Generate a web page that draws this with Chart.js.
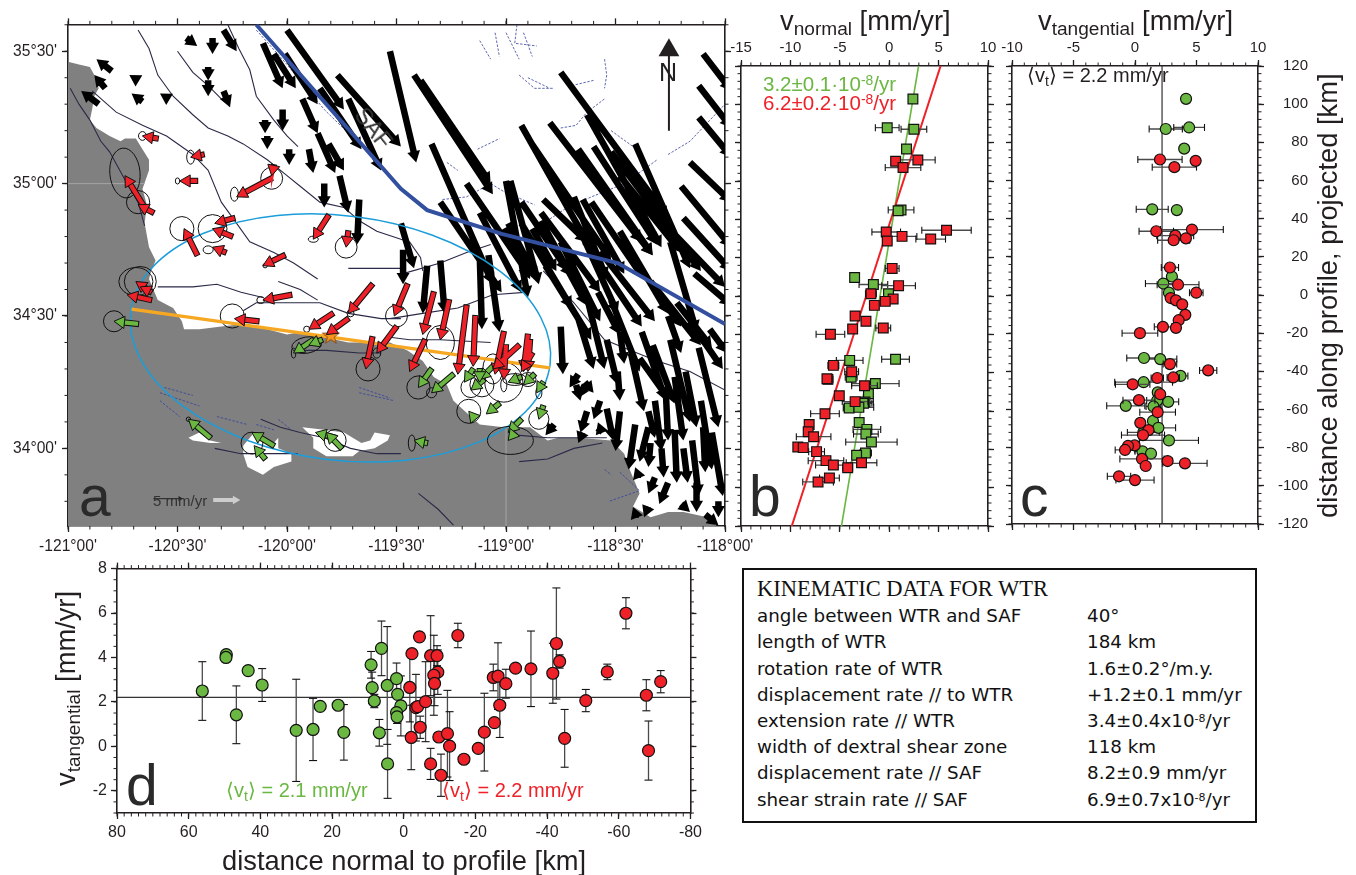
<!DOCTYPE html>
<html><head><meta charset="utf-8">
<script src="https://cdn.jsdelivr.net/npm/chart.js@4"></script>
<style>
html,body{margin:0;padding:0;background:#fff;width:1356px;height:875px;overflow:hidden}
canvas{position:absolute;display:block}
.t{position:absolute;font-family:"Liberation Sans",Arial,sans-serif;color:#231f20;white-space:nowrap;line-height:30px;z-index:5}
.t sub{font-size:.7em;vertical-align:-.25em;line-height:0}
.t sup{font-size:.68em;vertical-align:.42em;line-height:0}
.h{font-size:27.3px}
.big{font-size:57px;line-height:60px;color:#2a2a2a}
.leg{font-size:20.5px}
.avg{font-size:20px}
#box{position:absolute;left:742px;top:568px;width:515px;height:255px;border:2px solid #111;box-sizing:border-box;background:#fff;z-index:6}
.r{position:absolute;font-family:"DejaVu Sans",Verdana,sans-serif;font-size:18.3px;line-height:20px;color:#111;white-space:nowrap}
.r sup{font-size:.6em;vertical-align:.5em;line-height:0}
</style></head><body>
<canvas id="map"></canvas><canvas id="pb"></canvas><canvas id="pc"></canvas><canvas id="pd"></canvas>
<div class="t h" style="left:780px;top:6px">v<sub>normal</sub> [mm/yr]</div>
<div class="t h" style="left:1038px;top:6px">v<sub>tangential</sub> [mm/yr]</div>
<div class="t h" style="left:1313px;top:518px;transform:rotate(-90deg);transform-origin:0 0">distance along profile, projected [km]</div>
<div class="t h" style="left:222px;top:846px">distance normal to profile [km]</div>
<div class="t h" style="left:51px;top:786px;transform:rotate(-90deg);transform-origin:0 0">v<sub>tangential</sub> [mm/yr]</div>
<div class="t leg" style="left:763px;top:69px;color:#6ab741">3.2±0.1·10<sup>-8</sup>/yr</div>
<div class="t leg" style="left:763px;top:88px;color:#ee2128">6.2±0.2·10<sup>-8</sup>/yr</div>
<div class="t avg" style="left:1027px;top:60px">⟨v<sub>t</sub>⟩ = 2.2 mm/yr</div>
<div class="t avg" style="left:226px;top:775px;color:#6ab741">⟨v<sub>t</sub>⟩ = 2.1 mm/yr</div>
<div class="t avg" style="left:442px;top:775px;color:#ee2128">⟨v<sub>t</sub>⟩ = 2.2 mm/yr</div>
<div class="t big" style="left:79px;top:466px">a</div>
<div class="t big" style="left:749px;top:466px">b</div>
<div class="t big" style="left:1020px;top:466px">c</div>
<div class="t big" style="left:126px;top:755px">d</div>
<div class="t" style="left:659px;top:57px;font-size:25px">N</div>
<div class="t" style="left:351px;top:113px;font-size:23px;color:#333;transform:rotate(52deg)">SAF</div>
<div class="t" style="left:153px;top:486px;font-size:15px;color:#333">5 mm/yr</div>
<div id="box"></div>
<script>
// ---------- panels b and c : stations along the profile ----------
const greenAlong=[102.8,87.8,87,76.7,44.9,44.5,9.7,6,1.2,-33,-33.6,-42.4,-45.7,-51,-55.3,-56,-58.4,-58.1,-66,-69.6,-72,-76.2,-81.9,-83.1];
const greenNormal=[2.4,-0.2,2.5,1.75,1.2,0.9,-3.5,-1.6,-0.07,0.64,-4,-3.85,-1.4,-2.1,-2.45,-2.6,-4.05,-3.07,-3.04,-2.26,-2.36,-1.8,-2.4,-3.3];
const greenNormalErr=[0,1.2,1.3,0,1.3,0,0,1.45,0,1.4,1.35,0.6,2.4,0,0.85,0.85,0.6,1.5,0,1.4,1.25,2.6,0.6,0];
const greenTang=[4.15,4.4,2.5,4,1.4,3.4,3,2.3,2.76,0.73,2.05,3.7,0.7,1.85,1.8,2.7,1.5,-0.75,1.46,1.9,0.68,2.76,0.6,1.3];
const greenTangErr=[0,1.25,1.35,0,1.3,0,0,1.45,0,1.4,1.35,0.6,2.35,0,0.85,0.85,0.6,1.55,0,1.4,1.3,2.4,0.6,0];
const redAlong=[71,70.3,67,34.3,33.4,31.1,29.7,28.7,14.4,5.4,1.2,-1.6,-2.8,-4.9,-10.4,-13.2,-16.7,-17.2,-20,-36.2,-39.5,-43.5,-43.2,-46.8,-52,-55.1,-61.4,-67,-70.8,-73.4,-78.8,-79.1,-81.2,-85.9,-88.2,-89.6,-87,-95,-97];
const redNormal=[2.9,0.65,1.4,5.8,-0.3,1.3,4.2,-0.2,0.3,0.95,-1.85,0.4,-0.4,-1.5,-3.45,-2.35,-0.6,-3.7,-5.95,-5.65,-3.8,-6.2,-6.3,-2.5,-5.05,-3.45,-6.5,-8.1,-8.2,-7.65,-9.25,-8.7,-7.35,-6.4,-5.65,-4.2,-2.8,-6.05,-7.2];
const redNormalErr=[1.75,0,1.8,2.5,1.45,1.5,1.5,0,0.7,1.7,0.55,0,0,0,0,0,0.75,0,1.45,0.55,0.7,0.5,0.4,1.3,0,1.3,1.45,0,0,1.75,0,0,0.8,1.8,1.8,0.5,1.55,1,1.55];
const redTang=[2.03,4.93,3.2,4.63,1.73,3.27,4.14,3.14,2.84,3.5,4.98,2.9,3.33,3.84,4.09,3.55,2.27,3.33,0.4,2.84,5.95,1.81,3.11,-0.19,2.05,0.32,1.84,0.43,1.1,0.65,-0.03,-0.57,-0.81,0.57,4.06,0.87,2.65,-1.3,0];
const redTangErr=[1.8,0,1.8,2.55,1.4,1.5,0,1.3,0.7,1.7,0.55,0,0,0,0,0,0.7,0,1.45,0.55,0.7,0.5,0.5,1.4,0,1.3,1.45,0,0,1.75,0,0,0.8,1.8,1.8,0,0.4,0.95,1.55];
const greenFitNormal=[2.97,-4.83], redFitNormal=[5.2,-9.86], fitAlong=[120,-120];
const meanTangential=2.2;
// ---------- panel d ----------
const dGreenDist=[56.2,49.5,49.6,43.4,46.7,39.5,30,25.3,23.3,18.3,16.7,9.1,6.2,8.8,8.2,6.8,4.6,4.5,2,1.7,0.8,2,1.85];
const dGreenV=[2.49,4.13,4,3.41,1.42,2.76,0.72,0.76,1.8,1.85,0.63,3.67,4.41,2.64,2.04,0.61,2.74,-0.79,3.05,2.34,1.82,1.52,1.33];
const dGreenErr=[1.32,0,0,0,1.3,0.74,2.3,1.4,0,0,1.25,0.6,1.23,0.7,0.3,0.6,2.65,1.55,0.7,0,1.35,0,0.3];
const dRedDist=[-1.7,-2.3,-4.4,-3.4,-3.9,-6.1,-4.6,-2.1,-7.5,-9.3,-9.5,-8.4,-8.6,-7.5,-10.4,-9.8,-12.2,-12.8,-15.1,-16.8,-20.8,-22.5,-25.3,-25,-26.3,-26.8,-28.5,-31.2,-35.5,-41.6,-42.6,-43.5,-44.9,-50.8,-56.8,-62,-67.7,-68.3,-71.7];
const dRedV=[2.65,4.17,4.93,1.74,1.79,2.01,0.86,0.4,4.08,4.08,3.34,3.2,2.83,-0.79,-1.3,0.42,0.57,0.01,4.99,-0.58,-0.09,0.64,1.07,3.1,3.16,1.85,2.82,3.52,3.49,3.29,4.63,3.82,0.36,2.06,3.35,5.99,2.3,-0.19,2.91];
const dRedErr=[1.55,0,0,1.5,0,1.8,0.5,1.45,1.8,0.45,1,1.8,1,0.7,0.95,0,1.95,1.55,0.55,0,0,1.75,0,0.6,1.5,1.45,0.65,0,1.7,1.35,2.5,0.3,1.3,0.5,0.35,0.7,0.7,1.33,0.5];
// ---------- axis ticks ----------
const lonTicks=[-121,-120.5,-120,-119.5,-119,-118.5,-118];
const lonLabels=["-121°00'","-120°30'","-120°00'","-119°30'","-119°00'","-118°30'","-118°00'"];
const latTicks=[34,34.5,35,35.5];
const latLabels=["34°00'","34°30'","35°00'","35°30'"];
const normalTicks=[-15,-10,-5,0,5,10];
const tangTicks=[-10,-5,0,5,10];
const alongTicks=[120,100,80,60,40,20,0,-20,-40,-60,-80,-100,-120];
const distTicks=[80,60,40,20,0,-20,-40,-60,-80];
const dvTicks=[8,6,4,2,0,-2];
// ---------- map: [lon0,lat0,lon1,lat1] tail to tip ----------
const blackArrows=[
[-120.80,35.425,-120.87,35.47],[-120.83,35.36,-120.88,35.41],[-120.86,35.30,-120.94,35.35],[-120.68,35.39,-120.72,35.41],[-120.66,35.31,-120.71,35.34],[-120.54,35.32,-120.58,35.34],
[-120.46,35.55,-120.41,35.52],[-120.34,35.55,-120.34,35.49],[-120.29,35.58,-120.23,35.50],[-120.11,35.53,-120.02,35.36],[-120.06,35.49,-119.96,35.36],[-120.00,35.58,-119.74,35.28],
[-120.01,35.49,-119.86,35.30],[-119.77,35.41,-119.48,35.14],[-120.36,35.44,-120.36,35.39],[-120.36,35.39,-120.36,35.33],[-120.29,35.35,-120.26,35.29],[-120.02,35.28,-120.02,35.20],
[-120.10,35.24,-120.10,35.19],[-120.09,35.18,-120.09,35.13],[-119.93,35.32,-119.86,35.19],[-119.86,35.19,-119.78,35.04],[-119.81,35.15,-119.74,35.05],[-119.99,35.13,-119.99,35.07],
[-119.90,35.13,-119.88,35.04],[-119.85,35.36,-119.66,35.13],[-119.72,35.32,-119.57,35.05],[-119.76,35.03,-119.72,34.89],[-119.83,35.00,-119.83,34.91],[-119.67,34.94,-119.68,34.77],
[-119.53,35.50,-119.41,35.08],[-119.42,35.41,-119.06,34.96],[-119.39,35.39,-119.07,35.00],[-119.34,35.15,-119.06,34.62],[-119.18,35.00,-118.89,34.65],[-119.00,35.01,-118.90,34.57],
[-118.98,35.01,-118.85,34.62],[-118.93,35.22,-118.63,34.78],[-118.75,35.42,-118.26,34.87],[-118.63,35.26,-118.29,34.76],[-118.41,35.15,-118.16,34.68],[-118.67,35.13,-118.33,34.73],
[-118.60,35.14,-118.31,34.77],[-118.66,35.08,-118.33,34.73],[-118.83,34.94,-118.63,34.78],[-118.69,34.95,-118.54,34.64],[-118.65,34.94,-118.46,34.66],[-118.61,34.93,-118.37,34.64],
[-118.48,35.03,-118.20,34.74],[-118.10,35.49,-117.97,35.35],[-118.12,35.37,-117.97,35.21],[-118.12,35.25,-117.97,35.10],[-118.16,35.08,-117.97,34.93],[-118.20,34.99,-117.97,34.76],
[-118.19,34.87,-117.97,34.67],[-119.48,34.85,-119.42,34.68],[-119.47,34.75,-119.47,34.62],[-119.36,34.69,-119.38,34.51],[-119.30,34.71,-119.28,34.51],[-119.12,34.73,-119.11,34.45],
[-119.08,34.73,-119.03,34.44],[-118.93,34.85,-118.70,34.53],[-118.84,34.86,-118.63,34.54],[-118.66,34.82,-118.49,34.51],[-118.64,34.78,-118.38,34.46],[-118.48,34.82,-118.26,34.51],
[-118.25,34.78,-118.13,34.44],[-118.14,34.66,-117.97,34.54],[-118.22,34.55,-118.06,34.38],[-118.26,34.50,-118.20,34.36],[-118.16,34.48,-118.01,34.30],[-118.07,34.45,-117.99,34.36],
[-118.75,34.46,-118.74,34.28],[-118.67,34.49,-118.60,34.30],[-118.58,34.59,-118.48,34.43],[-118.63,34.57,-118.55,34.30],[-118.54,34.41,-118.49,34.24],[-118.48,34.44,-118.46,34.32],
[-118.49,34.29,-118.48,34.18],[-118.43,34.36,-118.37,34.14],[-118.39,34.34,-118.26,34.19],[-118.33,34.39,-118.23,34.17],[-118.23,34.27,-118.19,34.03],[-118.18,34.29,-118.13,34.08],
[-118.12,34.38,-118.03,34.08],[-118.27,34.21,-118.26,34.03],[-118.35,34.14,-118.32,34.04],[-118.41,34.09,-118.44,33.92],[-118.35,34.08,-118.39,33.95],[-118.34,34.02,-118.35,33.93],
[-118.29,34.00,-118.28,33.89],[-118.23,34.07,-118.22,33.87],[-118.19,34.00,-118.17,33.87],[-118.15,34.03,-118.12,33.82],[-118.10,34.08,-118.09,33.91],[-118.06,34.06,-118.01,33.82],
[-118.57,34.18,-118.60,34.11],[-118.63,34.14,-118.66,34.06],[-118.67,34.28,-118.71,34.23],[-118.64,34.24,-118.67,34.19],[-118.64,34.25,-118.60,34.21],[-118.68,34.24,-118.66,34.18],
[-118.54,34.15,-118.51,34.03],[-118.78,34.09,-118.82,34.05],[-118.65,34.06,-118.67,34.02],[-118.58,34.06,-118.59,34.05],[-118.40,33.90,-118.42,33.88],[-118.32,33.89,-118.35,33.83],
[-118.26,33.87,-118.30,33.79],[-118.35,33.78,-118.37,33.74],[-118.20,33.79,-118.16,33.76],[-118.13,33.87,-118.13,33.76],[-118.41,33.75,-118.43,33.73],[-118.09,33.75,-118.03,33.71],
[-118.03,33.80,-118.03,33.74],[-119.01,34.83,-118.89,34.64],[-118.99,34.85,-118.86,34.64],[-118.88,34.83,-118.77,34.67],[-118.81,34.79,-118.72,34.67],
[-118.57,34.744,-118.32,34.48],[-118.43,34.73,-118.20,34.46],[-118.34,34.63,-118.11,34.39],[-118.75,34.78,-118.57,34.48],[-118.82,34.69,-118.61,34.41],[-118.52,34.56,-118.39,34.29],
[-118.38,34.44,-118.27,34.18],[-118.25,34.41,-118.16,34.10],[-118.11,34.18,-118.06,33.92],[-118.32,34.18,-118.29,33.99],[-118.48,34.14,-118.50,33.99],[-118.84,34.89,-118.57,34.59],
[-118.93,34.93,-118.70,34.65],[-119.30,34.93,-119.02,34.59],[-119.12,34.89,-118.93,34.59],[-118.52,35.12,-118.11,34.67],[-118.80,35.23,-118.38,34.78],[-118.89,35.16,-118.52,34.71],[-118.29,34.86,-118.0,34.61]];
const redArrows=[
[-120.59,35.17,-120.66,35.18],[-120.38,35.11,-120.44,35.10],[-120.41,35.01,-120.49,35.01],[-120.07,35.02,-120.23,34.95],[-120.06,35.07,-120.07,35.03],[-120.65,34.91,-120.74,35.03],
[-120.61,34.89,-120.68,34.92],[-120.24,34.87,-120.33,34.85],[-120.25,34.80,-120.34,34.83],[-120.28,34.74,-120.34,34.76],[-120.41,34.73,-120.47,34.83],[-119.81,34.88,-119.88,34.79],
[-119.72,34.82,-119.73,34.76],[-120.01,34.73,-120.11,34.69],[-120.62,34.59,-120.69,34.63],[-120.62,34.56,-120.73,34.58],[-120.62,34.59,-120.67,34.61],[-119.98,34.58,-120.11,34.56],
[-120.13,34.48,-120.24,34.49],[-119.79,34.51,-119.90,34.45],[-119.61,34.62,-119.72,34.51],[-119.72,34.49,-119.82,34.43],[-119.61,34.42,-119.64,34.30],[-119.50,34.46,-119.59,34.36],
[-119.45,34.62,-119.51,34.50],[-119.37,34.41,-119.44,34.29],[-119.33,34.59,-119.38,34.43],[-119.26,34.56,-119.30,34.41],[-119.18,34.54,-119.22,34.28],[-119.14,34.50,-119.15,34.31],
[-119.01,34.44,-119.05,34.28],[-119.00,34.39,-119.01,34.26],[-118.94,34.39,-119.06,34.30],[-118.90,34.43,-118.92,34.29],[-118.89,34.41,-118.90,34.29],[-118.88,34.36,-118.93,34.29]];
const greenArrows=[
[-120.68,34.47,-120.79,34.48],[-119.84,34.41,-119.90,34.39],[-119.88,34.41,-119.97,34.36],[-120.35,34.04,-120.45,34.11],[-120.06,34.01,-120.16,34.06],[-120.10,33.96,-120.15,34.01],
[-119.78,34.04,-119.87,34.06],[-119.75,34.00,-119.82,34.06],[-119.36,34.02,-119.42,34.03],[-119.34,34.30,-119.40,34.23],[-119.24,34.28,-119.34,34.21],[-119.15,34.30,-119.19,34.25],
[-119.06,34.31,-119.12,34.26],[-119.10,34.26,-119.16,34.22],[-119.12,34.30,-119.12,34.25],[-119.03,34.17,-119.09,34.13],[-119.15,34.12,-119.17,34.14],[-118.93,34.27,-118.99,34.25],
[-118.87,34.28,-118.92,34.24],[-118.83,34.25,-118.86,34.21],[-118.83,34.16,-118.85,34.11],[-118.93,34.11,-118.99,34.06],[-118.96,34.06,-118.99,34.03]];
// [lon,lat,semi-axis a,semi-axis b (degrees of longitude),rotation]
const errorEllipses=[
[-120.74,35.04,.069,.114,-5],[-120.68,34.93,.053,.053,0],[-120.66,35.18,.018,.02,0],[-120.44,35.10,.018,.032,0],[-120.50,35.01,.01,.014,0],[-120.07,35.02,.05,.05,0],[-120.24,34.96,.018,.032,0],
[-120.48,34.83,.055,.055,0],[-120.34,34.83,.066,.064,0],[-120.36,34.75,.023,.018,0],[-120.10,34.69,.01,.01,0],[-119.88,34.79,.023,.014,0],[-119.73,34.76,.05,.05,0],[-120.69,34.63,.078,.064,0],
[-120.67,34.63,.073,.069,0],[-120.79,34.48,.048,.048,0],[-120.25,34.50,.055,.055,0],[-120.12,34.56,.018,.016,0],[-119.91,34.45,.014,.014,0],[-119.71,34.51,.016,.016,0],[-119.91,34.39,.069,.037,-10],
[-119.97,34.36,.01,.023,0],[-119.63,34.30,.055,.055,0],[-119.59,34.36,.018,.023,0],[-120.45,34.11,.01,.01,0],[-120.16,34.02,.05,.05,0],[-119.78,34.03,.05,.05,0],[-119.43,34.02,.016,.037,0],
[-119.50,34.50,.05,.05,0],[-119.40,34.23,.053,.053,0],[-119.34,34.21,.023,.023,0],[-119.30,34.40,.064,.078,0],[-119.17,34.14,.055,.055,0],[-119.06,34.30,.046,.069,0],[-119.16,34.23,.046,.046,0],
[-119.11,34.24,.055,.055,0],[-119.01,34.25,.087,.091,0],[-119.01,34.24,.014,.032,0],[-118.96,34.26,.055,.027,0],[-118.90,34.26,.037,.032,0],[-118.85,34.11,.046,.046,0],[-118.85,34.21,.014,.027,0],[-118.98,34.03,.105,.064,0]];
const zoneEllipse=[-119.756,34.417,.965,.558,7.2];
const profileLine=[[-120.71,34.526],[-118.80,34.304]];
const epicentre=[-119.80,34.425];
const safTrace=[[-120.14,35.60],[-119.48,34.98],[-119.36,34.90],[-119.02,34.81],[-118.49,34.70],[-118.0,34.47]];
const oceanOutline=[[-121,35.46],[-120.95,35.45],[-120.90,35.44],[-120.88,35.41],[-120.86,35.36],[-120.88,35.33],[-120.89,35.28],[-120.90,35.24],[-120.87,35.21],[-120.81,35.18],[-120.76,35.16],[-120.74,35.17],[-120.69,35.17],[-120.66,35.13],[-120.63,35.09],[-120.63,35.05],[-120.66,34.98],[-120.64,34.92],[-120.65,34.85],[-120.63,34.76],[-120.60,34.71],[-120.62,34.67],[-120.63,34.64],[-120.59,34.56],[-120.52,34.53],[-120.48,34.48],[-120.47,34.45],[-120.40,34.45],[-120.30,34.46],[-120.20,34.47],[-120.09,34.45],[-120.00,34.43],[-119.94,34.44],[-119.83,34.42],[-119.72,34.40],[-119.62,34.40],[-119.53,34.40],[-119.45,34.37],[-119.38,34.33],[-119.33,34.27],[-119.27,34.24],[-119.24,34.18],[-119.20,34.15],[-119.12,34.09],[-119.01,34.08],[-118.89,34.08],[-118.81,34.03],[-118.76,34.04],[-118.67,34.04],[-118.52,34.03],[-118.46,33.98],[-118.44,33.93],[-118.41,33.87],[-118.39,33.83],[-118.42,33.78],[-118.34,33.74],[-118.26,33.76],[-118.19,33.76],[-118.08,33.74],[-118.03,33.70],[-121,33.70]];
const islandSanMiguel=[[-120.45,34.04],[-120.40,34.06],[-120.35,34.03],[-120.30,34.02],[-120.35,34.02],[-120.43,34.03]];
const islandSantaRosa=[[-120.20,34.01],[-120.15,34.06],[-120.06,34.02],[-120.04,34.04],[-120.04,34.0],[-119.98,33.98],[-119.98,33.95],[-120.06,33.93],[-120.11,33.90],[-120.18,33.93],[-120.20,33.98]];
const islandSantaCruz=[[-119.93,34.08],[-119.83,34.07],[-119.74,34.06],[-119.66,34.02],[-119.62,34.03],[-119.60,34.06],[-119.53,34.05],[-119.54,34.03],[-119.60,34.0],[-119.67,33.99],[-119.70,33.97],[-119.82,33.97],[-119.88,34.0],[-119.88,34.04]];
const faults=[
[[-120.68,35.58],[-120.63,35.51],[-120.59,35.41],[-120.52,35.33],[-120.43,35.26],[-120.36,35.21],[-120.27,35.18],[-120.20,35.15],[-120.09,35.09],[-120.00,35.03],[-119.94,34.99],[-119.85,34.93],[-119.74,34.91],[-119.67,34.86],[-119.59,34.82],[-119.48,34.79],[-119.44,34.78],[-119.39,34.72],[-119.38,34.67]],
[[-120.99,35.36],[-120.95,35.30],[-120.90,35.24],[-120.85,35.16],[-120.81,35.12],[-120.75,35.03],[-120.68,34.93],[-120.65,34.84]],
[[-120.89,35.35],[-120.78,35.27],[-120.66,35.22],[-120.55,35.18],[-120.43,35.11],[-120.36,35.05],[-120.30,34.93],[-120.23,34.85],[-120.17,34.78],[-120.06,34.74],[-119.97,34.70],[-119.86,34.64]],
[[-120.50,35.50],[-120.43,35.42],[-120.36,35.37],[-120.30,35.32],[-120.26,35.29]],
[[-120.27,35.60],[-120.22,35.51],[-120.17,35.43],[-120.14,35.33],[-120.06,35.24],[-120.0,35.18],[-119.95,35.14]],
[[-120.59,34.61],[-120.43,34.61],[-120.32,34.62],[-120.21,34.59],[-120.11,34.57]],
[[-120.04,34.63],[-119.94,34.60],[-119.86,34.56]],
[[-120.20,34.52],[-120.14,34.55],[-120.03,34.55],[-119.85,34.55],[-119.72,34.51],[-119.57,34.49],[-119.48,34.49]],
[[-119.53,34.49],[-119.38,34.51],[-119.22,34.53],[-119.06,34.58],[-118.90,34.59]],
[[-118.83,34.67],[-118.69,34.55],[-118.55,34.41],[-118.43,34.37],[-118.31,34.33],[-118.16,34.29],[-118.0,34.22]],
[[-120.12,34.11],[-120.03,34.08],[-119.94,34.06],[-119.83,34.04],[-119.71,34.00],[-119.59,33.98],[-119.48,33.98]],
[[-120.33,34.0],[-120.21,33.98],[-120.06,33.98],[-119.95,33.98]],
[[-118.95,34.05],[-118.81,34.04],[-118.67,34.04],[-118.54,34.04]],
[[-118.94,33.95],[-118.81,33.96],[-118.69,34.0],[-118.56,34.02]],
[[-119.40,33.83],[-119.31,33.77],[-119.24,33.71]],
[[-119.94,34.37],[-119.82,34.37],[-119.67,34.36],[-119.57,34.36]],
[[-119.53,34.42],[-119.44,34.41],[-119.30,34.41],[-119.07,34.40]],
[[-119.47,34.66],[-119.30,34.70],[-119.18,34.74],[-119.07,34.77]],
[[-119.72,34.68],[-119.62,34.68],[-119.48,34.68]]];
const minorFaults=[
[[-118.75,35.21],[-118.68,35.22],[-118.65,35.25],[-118.63,35.27],[-118.55,35.32]],
[[-118.26,35.11],[-118.16,35.16],[-118.0,35.30]],
[[-118.55,35.47],[-118.54,35.41],[-118.55,35.36]],
[[-119.12,35.54],[-119.07,35.47]],[[-119.0,35.57],[-118.94,35.47]],[[-118.95,35.60],[-118.96,35.53],[-118.86,35.52]],
[[-119.05,35.57],[-119.03,35.48]],[[-118.92,35.57],[-118.88,35.48]],[[-118.90,35.40],[-118.80,35.36]],[[-119.27,35.08],[-119.22,35.05]],[[-119.13,35.13],[-119.03,35.17]],[[-118.70,35.37],[-118.60,35.39]],
[[-118.94,35.41],[-118.87,35.36],[-118.78,35.36]],[[-118.52,35.20],[-118.42,35.14]],
[[-119.29,34.94],[-119.18,34.95],[-119.07,35.0],[-119.01,34.97],[-118.87,34.92]],
[[-118.83,34.85],[-118.72,34.91],[-118.61,34.95],[-118.46,35.0],[-118.31,35.09]],
[[-120.14,35.58],[-120.0,35.45],[-119.83,35.28],[-119.67,35.15],[-119.50,35.0]],
[[-120.58,34.21],[-120.40,34.16]],[[-120.56,34.23],[-120.43,34.20]],[[-120.58,34.18],[-120.49,34.12]],[[-120.32,34.12],[-120.18,34.09]],[[-120.14,34.09],[-120.06,34.07]],[[-120.04,34.11],[-119.98,34.07]],[[-119.67,34.23],[-119.53,34.19]],[[-119.67,34.21],[-119.51,34.18]],
[[-118.55,33.92],[-118.52,33.90]],[[-118.48,33.91],[-118.39,33.84],[-118.53,33.80]]];
const lonGridOnSea=[[-119,33.7],[-119,34.08]], latGridOnSea=[[-121,35],[-120.65,35]];
const northArrow=[[-118.256,35.20],[-118.256,35.504]];
const scaleArrowGrey=[[-120.337,33.805,-120.213,33.805]];
const scaleArrowBlack=[[-120.61,33.81,-120.47,33.81]];
// ---------- table ----------
const tableTitle="KINEMATIC DATA FOR WTR";
const tableRows=[["angle between WTR and SAF","40°"],["length of WTR","184 km"],["rotation rate of WTR","1.6±0.2°/m.y."],["displacement rate // to WTR","+1.2±0.1 mm/yr"],["extension rate // WTR","3.4±0.4x10<sup>-8</sup>/yr"],["width of dextral shear zone","118 km"],["displacement rate // SAF","8.2±0.9 mm/yr"],["shear strain rate // SAF","6.9±0.7x10<sup>-8</sup>/yr"]];
const tableBaselines=[622,648,675,701,727,753,779,806];

// ---------- drawing ----------
const INK='#231f20', GREEN='#6ab741', RED='#ee2128';
Chart.defaults.font.family='"Liberation Sans",Arial,sans-serif';
Chart.defaults.color=INK;
const box=document.getElementById('box');
tableRows.forEach((r,i)=>{box.insertAdjacentHTML('beforeend',`<div class="r" style="left:13px;top:${tableBaselines[i]-570-16.5}px">${r[0]}</div><div class="r" style="left:343px;top:${tableBaselines[i]-570-16.5}px">${r[1]}</div>`)});
box.insertAdjacentHTML('beforeend',`<div class="r" style="left:13px;top:9px;font-family:'Liberation Serif',serif;font-size:22.5px">${tableTitle}</div>`);

function axis(position,min,max,vals,size,o={}){
  const horiz=position==='top'||position==='bottom';
  return {type:'linear',position,min,max,reverse:!!o.reverse,
    afterBuildTicks:s=>{s.ticks=vals.map(v=>({value:v}))},
    afterFit:s=>{if(horiz)s.height=size;else s.width=size},
    ticks:{display:!!o.labels,callback:o.labels||(v=>String(v)),font:{size:o.font||15},color:INK,padding:o.pad??4,autoSkip:false,maxRotation:0,minRotation:0,crossAlign:o.cross||'near'},
    grid:{drawOnChartArea:false,drawTicks:true,tickLength:6,tickColor:INK,tickWidth:1.3},
    border:{display:true,color:INK,width:o.bw||1.6}};
}
function minorPlugin(steps){return {id:'minor',afterDraw(c){
  const g=c.ctx;g.save();g.strokeStyle=INK;g.lineWidth=1;
  for(const [id,st] of Object.entries(steps)){
    const s=c.scales[id];const lo=Math.min(s.min,s.max),hi=Math.max(s.min,s.max);
    for(let k=Math.ceil(lo/st-1e-9);k*st<=hi+1e-9;k++){
      const v=s.getPixelForValue(k*st);g.beginPath();
      if(s.position==='top'){g.moveTo(v,c.chartArea.top);g.lineTo(v,c.chartArea.top-3.5)}
      if(s.position==='bottom'){g.moveTo(v,c.chartArea.bottom);g.lineTo(v,c.chartArea.bottom+3.5)}
      if(s.position==='left'){g.moveTo(c.chartArea.left,v);g.lineTo(c.chartArea.left-3.5,v)}
      if(s.position==='right'){g.moveTo(c.chartArea.right,v);g.lineTo(c.chartArea.right+3.5,v)}
      g.stroke();
    }
  }
  g.restore();}}}
function place(id,L,T,R,B,ml,mt,mr,mb){
  const c=document.getElementById(id);c.width=R-L+ml+mr;c.height=B-T+mt+mb;
  c.style.left=(L-ml)+'px';c.style.top=(T-mt)+'px';c.style.width=c.width+'px';c.style.height=c.height+'px';return c;}
const baseOpts={responsive:false,animation:false,devicePixelRatio:1,events:[],layout:{padding:0},plugins:{legend:{display:false},title:{display:false},tooltip:{enabled:false}}};
const ordered=ds=>{ds.forEach((d,i)=>{d.order=ds.length-i;d.xAxisID='x';d.yAxisID='y';});return ds;};
const gap={x:null,y:null};
const lineSet=(label,paths,color,width,extra={})=>({type:'line',label,data:paths.flatMap(p=>[...p.map(q=>({x:q[0],y:q[1]})),gap]),borderColor:color,borderWidth:width,pointRadius:0,fill:false,tension:0,clip:0,spanGaps:false,...extra});
const polySet=(label,pts,color)=>({type:'line',label,data:pts.map(q=>({x:q[0],y:q[1]})),borderWidth:0,borderColor:color,backgroundColor:color,fill:'shape',pointRadius:0,tension:0,clip:0});

// ---------- map ----------
const MAP={L:68,T:22,R:725,B:526};
const latMax=35.6015, latMin=33.7068;
const LON_PX=(MAP.R-MAP.L)/3, LAT_PX=(MAP.B-MAP.T)/(latMax-latMin);
function arrowParts(list,r){
  const shaft=[],outline=[],heads=[],rot=[];
  list.forEach(a=>{
    const dx=(a[2]-a[0])*LON_PX,dy=(a[3]-a[1])*LAT_PX,L=Math.hypot(dx,dy),ux=dx/L,uy=dy/L;
    const cx=a[2]-ux*r/LON_PX,cy=a[3]-uy*r/LAT_PX;
    shaft.push([[a[0],a[1]],[cx,cy]]);
    outline.push([[a[0]-ux/LON_PX,a[1]-uy/LAT_PX],[cx,cy]]);
    heads.push({x:cx,y:cy});rot.push(Math.atan2(dx,dy)*180/Math.PI);
  });
  return {shaft,outline,heads,rot};
}
const headSet=(label,p,r,fill,line)=>({type:'scatter',label,data:p.heads,pointStyle:'triangle',pointRadius:r,pointRotation:p.rot,pointBackgroundColor:fill,pointBorderColor:line,pointBorderWidth:line===fill?0:1,showLine:false,clip:0});
const pb_=arrowParts(blackArrows,7.5), pr_=arrowParts(redArrows,7), pg_=arrowParts(greenArrows,7);
const pSG=arrowParts(scaleArrowGrey,5), pSB=arrowParts(scaleArrowBlack,4);
function starCanvas(){const c=document.createElement('canvas');c.width=c.height=20;const g=c.getContext('2d');g.beginPath();
  for(let i=0;i<10;i++){const r=i%2?3.6:9,a=-Math.PI/2+i*Math.PI/5;g.lineTo(10+r*Math.cos(a),10+r*Math.sin(a));}
  g.closePath();g.fillStyle='#f7941e';g.fill();g.strokeStyle='#7a3b00';g.lineWidth=.8;g.stroke();return c;}
const ellipsePlugin={id:'ellipses',afterDatasetDraw(c,args){
  if(c.data.datasets[args.index].label!=='SAF')return;
  const g=c.ctx,X=c.scales.x,Y=c.scales.y,A=c.chartArea;
  g.save();g.beginPath();g.rect(A.left,A.top,A.right-A.left,A.bottom-A.top);g.clip();
  const pxPerLon=X.getPixelForValue(-120)-X.getPixelForValue(-121);
  const draw=(e,col,w)=>{g.beginPath();g.ellipse(X.getPixelForValue(e[0]),Y.getPixelForValue(e[1]),e[2]*pxPerLon,e[3]*pxPerLon,e[4]*Math.PI/180,0,2*Math.PI);g.strokeStyle=col;g.lineWidth=w;g.stroke();};
  draw(zoneEllipse,'#1b9dd9',1.5);
  errorEllipses.forEach(e=>draw(e,'#111',1));
  g.restore();}};
place('map',MAP.L,MAP.T,MAP.R,MAP.B,66,12,40,32);
new Chart('map',{type:'scatter',data:{datasets:ordered([
  polySet('ocean',oceanOutline,'#808080'),
  polySet('sm',islandSanMiguel,'#fff'),polySet('sr',islandSantaRosa,'#fff'),polySet('sc',islandSantaCruz,'#fff'),
  lineSet('grid',[lonGridOnSea,latGridOnSea],'#a5a5a5',1),
  lineSet('minor',minorFaults,'#33409a',.8,{borderDash:[2.5,1.5]}),
  lineSet('faults',faults,'#2a2a48',1.1),
  lineSet('blackShaft',pb_.shaft,'#000',6.5),headSet('blackHead',pb_,7.5,'#000','#000'),
  lineSet('SAF',[safTrace],'#32509f',4),
  lineSet('profile',[profileLine],'#f7a823',3.5),
  {type:'scatter',label:'star',data:[{x:epicentre[0],y:epicentre[1]}],pointStyle:starCanvas(),pointRadius:9,clip:0},
  lineSet('gOut',pg_.outline,'#111',6.2),lineSet('gFill',pg_.shaft,GREEN,4.2),headSet('gHead',pg_,7,GREEN,'#111'),
  lineSet('rOut',pr_.outline,'#111',6.2),lineSet('rFill',pr_.shaft,RED,4.2),headSet('rHead',pr_,7,RED,'#111'),
  lineSet('sg',pSG.shaft,'#cdcdcd',4),headSet('sgH',pSG,5,'#cdcdcd','#cdcdcd'),
  lineSet('sb',pSB.shaft,'#222',1),headSet('sbH',pSB,3,'#222','#222'),
  lineSet('north',[northArrow],INK,2),
  {type:'scatter',label:'northHead',data:[{x:northArrow[1][0],y:northArrow[1][1]}],pointStyle:'triangle',pointRadius:12,pointBackgroundColor:INK,pointBorderWidth:0,clip:0}
])},options:{...baseOpts,scales:{
  x:axis('bottom',-121,-118,lonTicks,32,{labels:v=>lonLabels[lonTicks.indexOf(v)],pad:5,font:15.6}),
  x2:axis('top',-121,-118,lonTicks,12),
  y:axis('left',latMin,latMax,latTicks,66,{labels:v=>latLabels[latTicks.indexOf(v)],pad:5,font:15.6}),
  y2:axis('right',latMin,latMax,latTicks,40)
}},plugins:[ellipsePlugin,minorPlugin({x:.1,x2:.1,y:.1,y2:.1})]});

// ---------- error bars ----------
function whiskers(xs,ys,es,horizontal,capR,label){
  const paths=[],caps=[];
  es.forEach((e,i)=>{ if(!e)return;
    if(horizontal){paths.push([[xs[i]-e,ys[i]],[xs[i]+e,ys[i]]]);caps.push({x:xs[i]-e,y:ys[i]},{x:xs[i]+e,y:ys[i]});}
    else{paths.push([[xs[i],ys[i]-e],[xs[i],ys[i]+e]]);caps.push({x:xs[i],y:ys[i]-e},{x:xs[i],y:ys[i]+e});}
  });
  return [lineSet(label+'Bar',paths,'#4a4a4a',1.3),
   {type:'scatter',label:label+'Cap',data:caps,pointStyle:'line',pointRadius:capR,pointRotation:horizontal?90:0,pointBorderColor:'#111',pointBorderWidth:1.1,clip:false}];
}
const marks=(label,xs,ys,style,r,col)=>({type:'scatter',label,data:xs.map((v,i)=>({x:v,y:ys[i]})),pointStyle:style,pointRadius:r,pointBackgroundColor:col,pointBorderColor:'#111',pointBorderWidth:1.2,clip:false});

// ---------- panel b ----------
const P={T:66,B:526};
place('pb',741,P.T,988,P.B,22,30,14,14);
new Chart('pb',{type:'scatter',data:{datasets:ordered([
  lineSet('gf',[[[greenFitNormal[0],fitAlong[0]],[greenFitNormal[1],fitAlong[1]]]],GREEN,1.6),
  lineSet('rf',[[[redFitNormal[0],fitAlong[0]],[redFitNormal[1],fitAlong[1]]]],RED,2),
  ...whiskers(greenNormal,greenAlong,greenNormalErr,true,3.5,'g'),
  marks('green',greenNormal,greenAlong,'rect',6.9,GREEN),
  ...whiskers(redNormal,redAlong,redNormalErr,true,3.5,'r'),
  marks('red',redNormal,redAlong,'rect',6.9,RED)
])},options:{...baseOpts,scales:{
  x:axis('bottom',-15,10,normalTicks,14),
  x2:axis('top',-15,10,normalTicks,30,{labels:v=>String(v),pad:3}),
  y:axis('left',-120,120,alongTicks,22),
  y2:axis('right',-120,120,alongTicks,14)
}},plugins:[minorPlugin({x:1,x2:1,y:4,y2:4})]});

// ---------- panel c ----------
place('pc',1012,P.T,1258,P.B,18,30,50,14);
new Chart('pc',{type:'scatter',data:{datasets:ordered([
  lineSet('mean',[[[meanTangential,fitAlong[0]],[meanTangential,fitAlong[1]]]],'#333',1.2),
  ...whiskers(greenTang,greenAlong,greenTangErr,true,3.5,'g'),
  marks('green',greenTang,greenAlong,'circle',5.5,GREEN),
  ...whiskers(redTang,redAlong,redTangErr,true,3.5,'r'),
  marks('red',redTang,redAlong,'circle',5.5,RED)
])},options:{...baseOpts,scales:{
  x:axis('bottom',-10,10,tangTicks,14),
  x2:axis('top',-10,10,tangTicks,30,{labels:v=>String(v),pad:3}),
  y:axis('left',-120,120,alongTicks,18),
  y2:axis('right',-120,120,alongTicks,50,{labels:v=>String(v),font:15,pad:7,cross:'far'})
}},plugins:[minorPlugin({x:1,x2:1,y:4,y2:4})]});

// ---------- panel d ----------
place('pd',117,567,692,813,24,12,14,30);
new Chart('pd',{type:'scatter',data:{datasets:ordered([
  lineSet('mean',[[[80,meanTangential],[-80,meanTangential]]],'#333',1.2),
  ...whiskers(dGreenDist,dGreenV,dGreenErr,false,4,'g'),
  marks('green',dGreenDist,dGreenV,'circle',6,GREEN),
  ...whiskers(dRedDist,dRedV,dRedErr,false,4,'r'),
  marks('red',dRedDist,dRedV,'circle',6,RED)
])},options:{...baseOpts,scales:{
  x:axis('bottom',-80,80,distTicks,30,{labels:v=>String(v),font:16,pad:4,reverse:true}),
  x2:axis('top',-80,80,distTicks,12,{reverse:true}),
  y:axis('left',-3,8,dvTicks,24,{labels:v=>String(v),font:16,pad:4}),
  y2:axis('right',-3,8,dvTicks,14)
}},plugins:[minorPlugin({x:2,x2:2,y:.5,y2:.5})]});
</script>
</body></html>
